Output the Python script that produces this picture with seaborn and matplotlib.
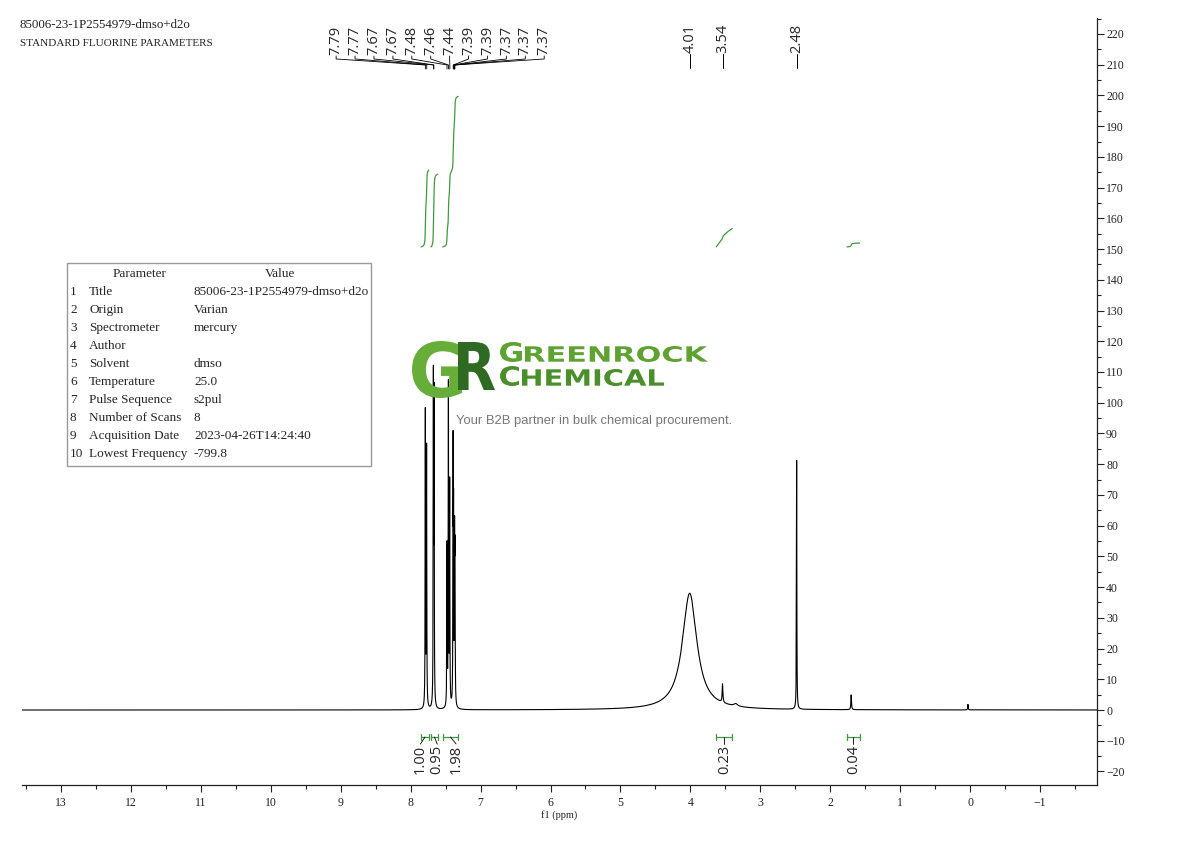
import numpy as np
import pandas as pd
import matplotlib
matplotlib.use("Agg")
import matplotlib.pyplot as plt
import seaborn as sns
from matplotlib.patches import Rectangle, PathPatch
from matplotlib.textpath import TextPath
from matplotlib.font_manager import FontProperties
from matplotlib.transforms import Affine2D
from matplotlib.ticker import MultipleLocator

# peaks: shift (ppm), height, line width (ppm)
peak_ppm = [7.790, 7.772, 7.675, 7.665, 7.480, 7.460, 7.442, 7.393, 7.386, 7.372, 7.366,
            4.01, 3.54, 3.35, 2.48, 1.70, 0.03]
peak_height = [96, 84, 104, 98, 52, 104, 72, 80, 56, 50, 44,
               38, 6, 0.8, 81, 4.8, 1.8]
peak_width = [0.006, 0.006, 0.006, 0.006, 0.006, 0.006, 0.006, 0.006, 0.006, 0.006, 0.006,
              0.25, 0.012, 0.06, 0.006, 0.010, 0.008]

# integrals
int_hi = [7.85, 7.71, 7.54, 3.63, 1.76]
int_lo = [7.74, 7.61, 7.32, 3.40, 1.58]
int_rise = [25.0, 23.7, 49.0, 6.0, 1.3]
int_labels = ["1.00", "0.95", "1.98", "0.23", "0.04"]
int_label_ppm = [7.86, 7.62, 7.35, 3.515, 1.67]
int_base = 150.7

# peak picking labels
multi_labels = ["7.79", "7.77", "7.67", "7.67", "7.48", "7.46", "7.44", "7.39", "7.39", "7.37", "7.37", "7.37"]
single_labels = ["4.01", "3.54", "2.48"]

# parameter table
param_names = ["Title", "Origin", "Spectrometer", "Author", "Solvent", "Temperature",
               "Pulse Sequence", "Number of Scans", "Acquisition Date", "Lowest Frequency"]
param_values = ["85006-23-1P2554979-dmso+d2o", "Varian", "mercury", "", "dmso", "25.0",
                "s2pul", "8", "2023-04-26T14:24:40", "-799.8"]

x_ticks = [13, 12, 11, 10, 9, 8, 7, 6, 5, 4, 3, 2, 1, 0, -1]
y_ticks = list(range(-20, 221, 10))

W, H = 1190, 841
GREEN = "#3f9a3f"
SANS = ["Open Sans", "DejaVu Sans"]


def px_x(px):
    return 13 - (px - 61) / 69.9


def px_y(py):
    return (710 - py) / 3.0727


# build spectrum from the peak list
ppm = np.arange(-1.9, 13.7, 0.0004)
inten = np.zeros_like(ppm)
for p, h, w in zip(peak_ppm, peak_height, peak_width):
    inten += h / (1 + ((ppm - p) / (w / 2)) ** 2)
spec = pd.DataFrame({"ppm": ppm, "intensity": inten})

sns.set_style("ticks")
plt.rcParams["font.family"] = ["Liberation Serif", "DejaVu Serif"]

fig = plt.figure(figsize=(W / 100, H / 100), dpi=100)
ax = fig.add_axes([22 / W, 1 - 785 / H, (1097 - 22) / W, (785 - 18) / H])

sns.lineplot(data=spec, x="ppm", y="intensity", color="black", lw=0.8,
             estimator=None, sort=False, ax=ax)

# integral curves and brackets
for hi, lo, rise, lab, lp in zip(int_hi, int_lo, int_rise, int_labels, int_label_ppm):
    m = (ppm <= hi) & (ppm >= lo)
    seg = spec[m].iloc[::-1].copy()
    cum = seg["intensity"].cumsum()
    seg["integral"] = int_base + rise * cum / cum.iloc[-1]
    sns.lineplot(data=seg, x="ppm", y="integral", color=GREEN, lw=0.9,
                 estimator=None, sort=False, ax=ax)
    yb = px_y(737)
    ax.plot([hi, lo], [yb, yb], color=GREEN, lw=0.9)
    for e in (hi, lo):
        ax.plot([e, e], [px_y(734), px_y(740)], color=GREEN, lw=0.9)
    mid = (hi + lo) / 2
    ax.plot([mid, lp], [yb, px_y(744)], color="black", lw=0.6)
    ax.text(lp, px_y(745), lab, rotation=90, ha="center", va="top",
            fontsize=10.5, family=SANS)

# multiplet labels at the top
lab_x = np.linspace(px_x(336), px_x(544), len(multi_labels))
for lx, lab in zip(lab_x, multi_labels):
    pk = float(lab)
    ax.text(lx, px_y(55), lab, rotation=90, ha="center", va="bottom",
            fontsize=10.5, family=SANS)
    ax.plot([lx, lx, pk, pk], [px_y(56), px_y(59), px_y(65), px_y(69)],
            color="black", lw=0.6, clip_on=False)
for lab in single_labels:
    pk = float(lab)
    ax.text(pk, px_y(53), lab, rotation=90, ha="center", va="bottom",
            fontsize=10.5, family=SANS)
    ax.plot([pk, pk], [px_y(54), px_y(68)], color="black", lw=0.7)

# axes styling
ax.set_xlim(13.558, -1.815)
ax.set_ylim(-24.4, 225.2)
ax.set_xticks(x_ticks)
ax.set_yticks(y_ticks)
ax.xaxis.set_minor_locator(MultipleLocator(0.5))
ax.yaxis.set_minor_locator(MultipleLocator(5))
ax.yaxis.tick_right()
ax.spines["left"].set_visible(False)
ax.spines["top"].set_visible(False)
for s in ("right", "bottom"):
    ax.spines[s].set_linewidth(0.9)
    ax.spines[s].set_color("#222222")
ax.tick_params(which="major", direction="out", length=5, width=0.8, labelsize=8.5, colors="#222222")
ax.tick_params(axis="y", which="major", pad=1.5)
ax.tick_params(which="minor", direction="out", length=3, width=0.8, colors="#222222")
ax.set_xlabel("f1 (ppm)", fontsize=7.5, labelpad=1)
ax.set_ylabel("")

# header text
fig.text(20 / W, 1 - 25 / H, "85006-23-1P2554979-dmso+d2o", fontsize=9.3, va="center", color="#222222")
fig.text(20 / W, 1 - 43 / H, "STANDARD FLUORINE PARAMETERS", fontsize=8, va="center", color="#222222")

# parameter table
fig.add_artist(Rectangle((67 / W, 1 - 466 / H), (371 - 67) / W, (466 - 263) / H,
                         transform=fig.transFigure, fill=False, ec="#999999", lw=1))
fig.text(140 / W, 1 - 274 / H, "Parameter", fontsize=9.5, ha="center", va="center")
fig.text(280 / W, 1 - 274 / H, "Value", fontsize=9.5, ha="center", va="center")
for i, (n, v) in enumerate(zip(param_names, param_values)):
    yy = 1 - (292 + 18 * i) / H
    fig.text(70 / W, yy, str(i + 1), fontsize=9.5, va="center")
    fig.text(89 / W, yy, n, fontsize=9.5, va="center")
    fig.text(194 / W, yy, v, fontsize=9.5, va="center")

# watermark logo
bold = FontProperties(family="DejaVu Sans", weight="bold")


def logo_piece(text, x0, x1, y0, y1, color):
    tp = TextPath((0, 0), text, size=1, prop=bold)
    bb = tp.get_extents()
    tr = (Affine2D().translate(-bb.x0, -bb.y0)
          .scale((x1 - x0) / bb.width, (y1 - y0) / bb.height)
          .translate(x0, H - y1))
    fig.add_artist(PathPatch(tr.transform_path(tp), fc=color, ec="none",
                             transform=None, zorder=10))


logo_piece("G", 412, 462, 341, 398, "#66ad3a")
logo_piece("R", 458, 495, 342, 390, "#2f6a23")
logo_piece("G", 500, 522, 342, 362, "#5ea332")
logo_piece("REENROCK", 525, 708, 346, 362, "#5ea332")
logo_piece("C", 500, 519, 366, 386, "#4a8f2a")
logo_piece("HEMICAL", 522, 664, 369, 386, "#4a8f2a")
fig.text(456 / W, 1 - 421 / H, "Your B2B partner in bulk chemical procurement.",
         fontsize=9.4, color="#777777", va="center", family=["Liberation Sans", "DejaVu Sans"])

fig.savefig("out.png", dpi=100)
